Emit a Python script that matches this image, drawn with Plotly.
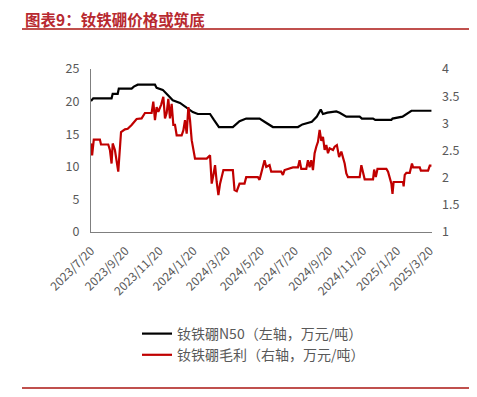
import plotly.graph_objects as go

# N50 price (left axis, 万元/吨)
n50_dates = ["2023-07-20", "2023-07-24", "2023-08-26", "2023-08-28", "2023-09-06", "2023-09-08",
             "2023-10-01", "2023-10-05", "2023-10-12", "2023-11-12", "2023-11-15", "2023-11-26",
             "2023-12-05", "2023-12-14", "2023-12-27", "2024-01-06", "2024-01-19", "2024-01-28",
             "2024-02-19", "2024-02-26", "2024-03-06", "2024-03-31", "2024-04-12", "2024-04-24",
             "2024-05-18", "2024-05-29", "2024-06-05", "2024-06-11", "2024-07-26", "2024-08-03",
             "2024-08-20", "2024-08-29", "2024-09-05", "2024-09-09", "2024-09-17", "2024-10-03",
             "2024-10-09", "2024-10-21", "2024-11-14", "2024-11-18", "2024-12-08", "2024-12-12",
             "2025-01-10", "2025-01-12", "2025-01-30", "2025-02-15", "2025-03-23"]
n50_values = [20.1, 20.5, 20.5, 21.2, 21.2, 22.0,
              22.0, 22.3, 22.6, 22.6, 22.1, 21.8,
              21.0, 20.2, 19.8, 19.2, 18.4, 18.1,
              18.1, 17.2, 16.1, 16.1, 17.0, 17.4,
              17.4, 16.8, 16.4, 16.1, 16.1, 16.5,
              16.9, 17.7, 18.8, 18.1, 18.3, 18.5,
              18.3, 17.7, 17.7, 17.4, 17.4, 17.2,
              17.2, 17.4, 17.7, 18.6, 18.6]

# Gross margin (right axis, 万元/吨)
margin_dates = ["2023-07-20", "2023-07-22", "2023-07-25", "2023-08-05", "2023-08-07", "2023-08-20",
                "2023-08-23", "2023-08-26", "2023-08-28", "2023-09-01", "2023-09-07", "2023-09-12",
                "2023-09-19", "2023-09-24", "2023-10-01", "2023-10-10", "2023-10-19", "2023-10-25",
                "2023-11-06", "2023-11-09", "2023-11-12", "2023-11-15", "2023-11-18", "2023-11-23",
                "2023-11-27", "2023-11-30", "2023-12-03", "2023-12-06", "2023-12-09", "2023-12-12",
                "2023-12-15", "2023-12-18", "2023-12-21", "2023-12-30", "2024-01-02", "2024-01-05",
                "2024-01-08", "2024-01-11", "2024-01-14", "2024-01-17", "2024-01-23", "2024-02-13",
                "2024-02-19", "2024-02-22", "2024-02-25", "2024-02-28", "2024-03-02", "2024-03-05",
                "2024-03-08", "2024-03-14", "2024-03-31", "2024-04-03", "2024-04-07", "2024-04-12",
                "2024-04-21", "2024-04-24", "2024-05-15", "2024-05-18", "2024-05-21", "2024-05-24",
                "2024-05-27", "2024-05-30", "2024-06-05", "2024-06-08", "2024-06-26", "2024-06-29",
                "2024-07-02", "2024-07-17", "2024-07-26", "2024-07-29", "2024-08-01", "2024-08-10",
                "2024-08-13", "2024-08-16", "2024-08-19", "2024-08-22", "2024-08-25", "2024-08-28",
                "2024-08-31", "2024-09-03", "2024-09-06", "2024-09-09", "2024-09-12", "2024-09-15",
                "2024-09-18", "2024-09-21", "2024-09-27", "2024-09-30", "2024-10-04", "2024-10-08",
                "2024-10-12", "2024-10-18", "2024-10-21", "2024-10-24", "2024-11-14", "2024-11-17",
                "2024-11-20", "2024-11-23", "2024-12-08", "2024-12-10", "2024-12-13", "2024-12-16",
                "2025-01-01", "2025-01-04", "2025-01-10", "2025-01-12", "2025-01-14", "2025-01-31",
                "2025-02-01", "2025-02-03", "2025-02-06", "2025-02-12", "2025-02-16", "2025-02-18",
                "2025-03-02", "2025-03-04", "2025-03-17", "2025-03-20", "2025-03-23"]
margin_values = [2.63, 2.41, 2.70, 2.70, 2.61, 2.61,
                 2.51, 2.26, 2.63, 2.51, 2.11, 2.84,
                 2.89, 2.90, 2.97, 3.08, 3.09, 3.19,
                 3.19, 3.40, 3.06, 3.30, 3.21, 3.34,
                 3.49, 3.09, 3.19, 3.45, 3.09, 3.36,
                 2.97, 2.97, 2.78, 2.78, 2.87, 3.06,
                 2.81, 3.30, 3.06, 2.69, 2.35, 2.35,
                 2.41, 1.89, 2.05, 2.23, 1.92, 1.68,
                 1.89, 2.14, 2.14, 1.77, 1.75, 1.89,
                 1.89, 2.01, 2.01, 1.96, 2.08, 2.23,
                 2.32, 2.20, 2.23, 2.11, 2.11, 2.05,
                 2.14, 2.19, 2.19, 2.32, 2.16, 2.16,
                 2.32, 2.19, 2.32, 2.14, 2.45, 2.57,
                 2.66, 2.88, 2.68, 2.75, 2.51, 2.60,
                 2.45, 2.54, 2.51, 2.57, 2.60, 2.38,
                 2.48, 2.26, 2.08, 2.01, 2.01, 2.23,
                 2.11, 1.97, 1.97, 2.15, 2.01, 2.16,
                 2.16, 2.11, 1.89, 1.70, 1.92, 1.92,
                 1.84, 2.05, 2.09, 2.09, 2.26, 2.19,
                 2.19, 2.13, 2.13, 2.22, 2.22]

tick_dates = ["2023-07-20", "2023-09-20", "2023-11-20", "2024-01-20", "2024-03-20", "2024-05-20",
              "2024-07-20", "2024-09-20", "2024-11-20", "2025-01-20", "2025-03-20"]
tick_labels = ["2023/7/20", "2023/9/20", "2023/11/20", "2024/1/20", "2024/3/20", "2024/5/20",
               "2024/7/20", "2024/9/20", "2024/11/20", "2025/1/20", "2025/3/20"]
left_ticks = [0, 5, 10, 15, 20, 25]
right_ticks = [1, 1.5, 2, 2.5, 3, 3.5, 4]
right_labels = ["1", "1.5", "2", "2.5", "3", "3.5", "4"]

title_text = "图表9：钕铁硼价格或筑底"
name_n50 = "钕铁硼N50（左轴，万元/吨）"
name_margin = "钕铁硼毛利（右轴，万元/吨）"

FONT = "Noto Sans CJK SC"
GRAY = "#595959"
TITLE_RED = "#B8292F"

fig = go.Figure()
fig.add_trace(go.Scatter(x=n50_dates, y=n50_values, mode="lines", name=name_n50,
                         line=dict(color="#000000", width=2.2), yaxis="y"))
fig.add_trace(go.Scatter(x=margin_dates, y=margin_values, mode="lines", name=name_margin,
                         line=dict(color="#C00000", width=2.2), yaxis="y2"))

# The page body has an 8px margin, so the figure is drawn offset by OFF px.
OFF = 8
PAGE_W, PAGE_H = 477, 397
W, H = PAGE_W - OFF, PAGE_H - OFF
# plot area in page pixel coordinates
PL, PR, PT, PB = 91, 432, 69, 232
L, R, T, B = PL - OFF, W - (PR - OFF), PT - OFF, H - (PB - OFF)
pw, ph = W - L - R, H - T - B

def px_x(x):
    return (x - PL) / pw

def px_y(y):
    return (PB - y) / ph

fig.update_layout(
    width=W, height=H,
    margin=dict(l=L, r=R, t=T, b=B, pad=0, autoexpand=False),
    paper_bgcolor="white", plot_bgcolor="white",
    font=dict(family=FONT, color=GRAY, size=12),
    showlegend=True,
    legend=dict(x=px_x(137), y=px_y(318), xanchor="left", yanchor="top",
                font=dict(family=FONT, size=14, color=GRAY),
                bgcolor="rgba(0,0,0,0)", tracegroupgap=0, itemwidth=30),
    xaxis=dict(type="date", range=["2023-07-20", "2025-03-24"], automargin=False,
               tickvals=tick_dates, ticktext=tick_labels, tickangle=-45,
               tickfont=dict(size=12, color=GRAY, family=FONT), ticklabelstandoff=6,
               showgrid=False, zeroline=False, showline=True, linecolor="#7f7f7f",
               linewidth=1.3, ticks="", ticklen=0),
    yaxis=dict(range=[0, 25], tickvals=left_ticks, showgrid=False, zeroline=False,
               showline=True, linecolor="#7f7f7f", linewidth=1.3, automargin=False,
               tickfont=dict(size=12.5, color=GRAY, family=FONT), ticks="", ticklabelstandoff=8),
    yaxis2=dict(range=[1, 4], tickvals=right_ticks, ticktext=right_labels, overlaying="y",
                side="right", showgrid=False, zeroline=False, showline=False, automargin=False,
                tickfont=dict(size=12.5, color=GRAY, family=FONT), ticks="", ticklabelstandoff=9),
)

fig.add_annotation(text=title_text, xref="paper", yref="paper", x=px_x(24), y=px_y(18.5),
                   xanchor="left", yanchor="middle", showarrow=False, borderpad=0,
                   font=dict(family=FONT, size=15.5, color=TITLE_RED, weight="bold"))
fig.add_shape(type="line", xref="paper", yref="paper", x0=px_x(22), x1=px_x(477),
              y0=px_y(29), y1=px_y(29), line=dict(color="#C0504D", width=2))
fig.add_shape(type="line", xref="paper", yref="paper", x0=px_x(22), x1=px_x(477),
              y0=px_y(388), y1=px_y(388), line=dict(color="#C0504D", width=2))

fig.write_html("out.html")
